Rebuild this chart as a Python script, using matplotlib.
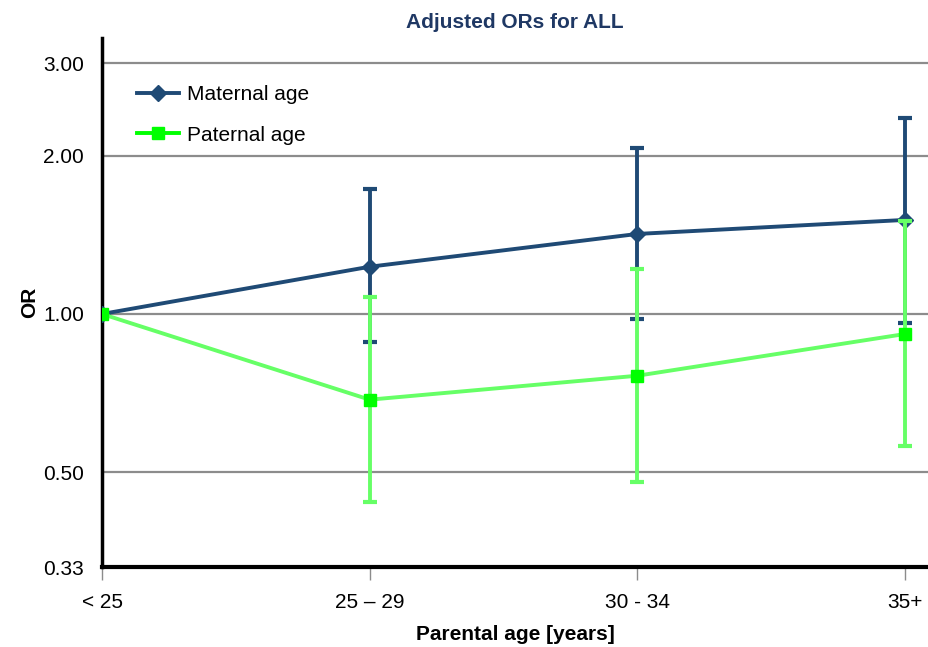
import numpy as np
import matplotlib
matplotlib.use("Agg")
import matplotlib.pyplot as plt
from matplotlib.lines import Line2D
from matplotlib.ticker import FixedLocator, NullLocator

plt.rcParams['font.family'] = ['Liberation Sans', 'DejaVu Sans']

# age groups
categories = ['< 25', '25 – 29', '30 - 34', '35+']

# adjusted odds ratios with 95% CI
maternal_or = [1.00, 1.23, 1.42, 1.51]
maternal_lo = [1.00, 0.885, 0.978, 0.96]
maternal_hi = [1.00, 1.73, 2.07, 2.36]

paternal_or = [1.00, 0.687, 0.763, 0.916]
paternal_lo = [1.00, 0.438, 0.48, 0.562]
paternal_hi = [1.00, 1.077, 1.217, 1.50]

ytick_vals = [0.33, 0.5, 1.0, 2.0, 3.0]
ytick_labels = ['0.33', '0.50', '1.00', '2.00', '3.00']

navy = '#1f4a75'
green_line = '#66ff66'
green_mark = '#00ff00'
fs = 15

fig = plt.figure(figsize=(9.29, 6.47), dpi=100)
ax = fig.add_axes([0.1098, 0.1236, 0.8891, 0.8176])

x = np.arange(len(categories))

m = np.array(maternal_or)
m_err = [m - np.array(maternal_lo), np.array(maternal_hi) - m]
ax.errorbar(x, m, yerr=m_err, color=navy, lw=2.8, marker='D', ms=8,
            mfc=navy, mec=navy, ecolor=navy, elinewidth=2.8,
            capsize=5, capthick=3, zorder=3)

p = np.array(paternal_or)
p_err = [p - np.array(paternal_lo), np.array(paternal_hi) - p]
ax.errorbar(x, p, yerr=p_err, color=green_line, lw=2.8, marker='s', ms=9,
            mfc=green_mark, mec=green_mark, ecolor=green_line, elinewidth=2.8,
            capsize=5, capthick=3, zorder=4)

ax.set_yscale('log')
ax.set_ylim(0.33, 3.35)
ax.set_xlim(0, 3.086)
ax.yaxis.set_major_locator(FixedLocator(ytick_vals))
ax.yaxis.set_minor_locator(NullLocator())
ax.set_yticklabels(ytick_labels, fontsize=fs)
ax.set_xticks(x)
ax.set_xticklabels(categories, fontsize=fs)

for v in ytick_vals[1:]:
    ax.axhline(v, color='#8c8c8c', lw=1.6, zorder=1)

ax.tick_params(axis='y', length=0, pad=13)
ax.tick_params(axis='x', length=9, width=1, color='#8c8c8c', pad=10)

for s in ['top', 'right']:
    ax.spines[s].set_visible(False)
ax.spines['left'].set_linewidth(2.5)
ax.spines['bottom'].set_linewidth(3)

ax.set_xlabel('Parental age [years]', fontsize=fs, fontweight='bold', labelpad=9)
ax.set_ylabel('OR', fontsize=fs, fontweight='bold', labelpad=3)
ax.set_title('Adjusted ORs for ALL', fontsize=fs, fontweight='bold',
             color='#1f3864', pad=7)

handles = [
    Line2D([], [], color=navy, lw=2.8, marker='D', ms=8, mfc=navy, mec=navy),
    Line2D([], [], color=green_mark, lw=2.8, marker='s', ms=9, mfc=green_mark, mec=green_mark),
]
ax.legend(handles, ['Maternal age', 'Paternal age'], loc='upper left', frameon=False,
          fontsize=fs, bbox_to_anchor=(0.02, 0.947), labelspacing=1.05,
          handlelength=2.0, handletextpad=0.4)

fig.savefig('out.png', dpi=100)
